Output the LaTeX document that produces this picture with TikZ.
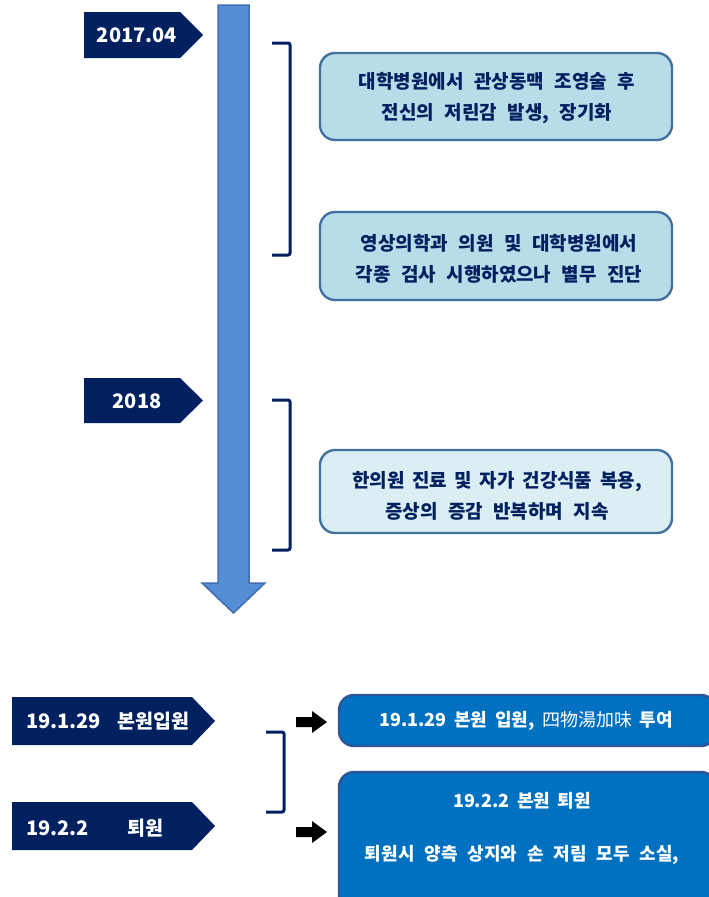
\documentclass[tikz,border=0pt]{standalone}
\usepackage{fontspec}
\setmainfont{Noto Sans CJK KR}[WordSpace={2.4}]
\newfontfamily\hanjafont{Noto Sans CJK KR}
\newcommand\widesp{\spaceskip=7.6pt plus 1pt\relax}
\usetikzlibrary{calc}
\definecolor{navy}{HTML}{002060}
\definecolor{shaftfill}{HTML}{558ED5}
\definecolor{shaftline}{HTML}{3F6FAF}
\definecolor{lightbox}{HTML}{B7DEE8}
\definecolor{paleblue}{HTML}{DAEEF3}
\definecolor{boxline}{HTML}{41719C}
\definecolor{deepblue}{HTML}{0070C0}
\definecolor{deepline}{HTML}{2F5597}
\tikzset{
  datetag/.style={fill=navy},
  datetext/.style={text=white,font=\fontsize{20}{22}\selectfont\bfseries,inner sep=0pt},
  kortext/.style={text=white,font=\fontsize{19.5}{22}\selectfont\bfseries,inner sep=0pt},
  lightcard/.style={draw=boxline,line width=2.4pt,rounded corners=15pt,fill=lightbox},
  palecard/.style={draw=boxline,line width=2.4pt,rounded corners=15pt,fill=paleblue},
  deepcard/.style={draw=deepline,line width=2.4pt,rounded corners=15pt,fill=deepblue},
  cardtext/.style={align=center,font=\fontsize{19}{31}\selectfont\bfseries,text=navy,inner sep=0pt},
  deeptext/.style={align=center,font=\fontsize{18}{27}\selectfont\bfseries,text=white,inner sep=0pt},
  brackline/.style={draw=navy,line width=3pt,rounded corners=2pt},
  blockarrow/.style={fill=black}
}
\begin{document}
\begin{tikzpicture}[x=1pt,y=-1pt]
\useasboundingbox (0,0) rectangle (709,897);
\clip (0,0) rectangle (709,897);
\fill[white] (0,0) rectangle (709,897);

% main timeline arrow
\draw[fill=shaftfill,draw=shaftline,line width=1.5pt]
  (218,5) -- (249,5) -- (249,583) -- (265,583) -- (233.5,613) -- (202,583) -- (218,583) -- cycle;

% date tags
\fill[datetag] (84,12) -- (180,12) -- (203,35) -- (180,58) -- (84,58) -- cycle;
\node[datetext] (d2017) at (137,35) {2017.04};
\fill[datetag] (84,378) -- (180,378) -- (203,400.5) -- (180,423) -- (84,423) -- cycle;
\node[datetext] (d2018) at (137,401) {2018};

% brackets
\coordinate (b1t) at (272,43);
\coordinate (b1b) at (272,255);
\draw[brackline] (b1t) -- (290,43) -- (290,255) -- (b1b);
\coordinate (b2t) at (272,400);
\coordinate (b2b) at (272,550);
\draw[brackline] (b2t) -- (290,400) -- (290,550) -- (b2b);

% cards
\draw[lightcard] (320,53) rectangle (672,140);
\node[cardtext] (c1) at (497,98) {대학병원에서 관상동맥 조영술 후\\전신의 저린감 발생, 장기화};
\draw[lightcard] (320,212) rectangle (672,300);
\node[cardtext] (c2) at (499,259) {영상의학과 의원 및 대학병원에서\\각종 검사 시행하였으나 별무 진단};
\draw[palecard] (320,450) rectangle (672,533);
\node[cardtext] (c3) at (497,496) {{\widesp 한의원 진료 및 자가 건강식품 복용,}\\증상의 증감 반복하며 지속};

% bottom tags
\fill[datetag] (12,697) -- (192,697) -- (215,721) -- (192,745) -- (12,745) -- cycle;
\node[datetext,anchor=west] (t1a) at (26,721) {19.1.29};
\node[kortext,anchor=west] (t1b) at (117,721) {본원입원};
\fill[datetag] (12,802) -- (192,802) -- (215,826) -- (192,850) -- (12,850) -- cycle;
\node[datetext,anchor=west] (t2a) at (26,828) {19.2.2};
\node[kortext,anchor=west] (t2b) at (127,828) {퇴원};

\coordinate (b3t) at (266,732);
\coordinate (b3b) at (266,812);
\draw[brackline] (b3t) -- (284,732) -- (284,812) -- (b3b);

% small block arrows
\fill[blockarrow] (296,717) -- (312,717) -- (312,711) -- (327,722) -- (312,733) -- (312,727) -- (296,727) -- cycle;
\fill[blockarrow] (296,827) -- (312,827) -- (312,821) -- (327,832) -- (312,843) -- (312,837) -- (296,837) -- cycle;

% deep cards
\draw[deepcard] (339,695) rectangle (716,746);
\node[deeptext] (c4) at (526,721) {\widesp 19.1.29 본원 입원, {\hanjafont\mdseries 四物湯加味} 투여};
\draw[deepcard] (339,772) rectangle (716,910);
\node[deeptext] (c5) at (522,828) {{\widesp 19.2.2 본원 퇴원}\\[26pt]퇴원시 양측 상지와 손 저림 모두 소실,};
\end{tikzpicture}
\end{document}
